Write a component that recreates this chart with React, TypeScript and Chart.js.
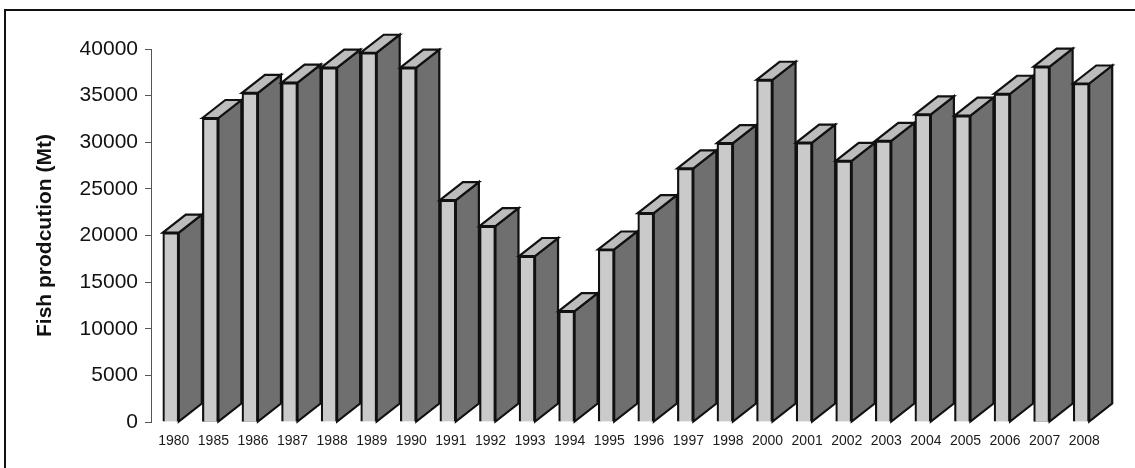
import React, { useEffect, useRef } from "react";
import { Chart, registerables } from "chart.js";

Chart.register(...registerables);

const years: string[] = [
  "1980", "1985", "1986", "1987", "1988", "1989", "1990", "1991", "1992", "1993", "1994", "1995",
  "1996", "1997", "1998", "2000", "2001", "2002", "2003", "2004", "2005", "2006", "2007", "2008",
];
const production: number[] = [
  20300, 32600, 35300, 36400, 38000, 39600, 38000, 23800, 21000, 17800, 11900, 18500,
  22400, 27200, 29900, 36700, 29950, 28000, 30150, 33000, 32850, 35200, 38100, 36300,
];
const yTitle = "Fish prodcution (Mt)";

const FONT = "'Liberation Sans', Arial, sans-serif";
const DEPTH_X = 23;
const DEPTH_Y = -18;

const depthPlugin = {
  id: "depth3d",
  beforeDatasetsDraw(chart: any) {
    const ctx = chart.ctx;
    const meta = chart.getDatasetMeta(0);
    ctx.save();
    ctx.lineJoin = "miter";
    ctx.lineWidth = 2.2;
    ctx.strokeStyle = "#111";
    meta.data.forEach((bar: any) => {
      const { x, y, base, width } = bar.getProps(["x", "y", "base", "width"], true);
      const l = x - width / 2;
      const r = x + width / 2;
      // side face
      ctx.beginPath();
      ctx.moveTo(r, y);
      ctx.lineTo(r + DEPTH_X, y + DEPTH_Y);
      ctx.lineTo(r + DEPTH_X, base + DEPTH_Y);
      ctx.lineTo(r, base);
      ctx.closePath();
      ctx.fillStyle = "#6f6f6f";
      ctx.fill();
      ctx.stroke();
      // top face
      ctx.beginPath();
      ctx.moveTo(l, y);
      ctx.lineTo(l + DEPTH_X, y + DEPTH_Y);
      ctx.lineTo(r + DEPTH_X, y + DEPTH_Y);
      ctx.lineTo(r, y);
      ctx.closePath();
      ctx.fillStyle = "#bcbcbc";
      ctx.fill();
      ctx.stroke();
    });
    ctx.restore();
  },
};

export default function App() {
  const canvasRef = useRef<HTMLCanvasElement | null>(null);

  useEffect(() => {
    if (!canvasRef.current) return;
    const chart = new Chart(canvasRef.current, {
      type: "bar",
      data: {
        labels: years,
        datasets: [
          {
            data: production,
            backgroundColor: "#cacaca",
            borderColor: "#111",
            borderWidth: 2.2,
            barThickness: 16,
            clip: false as any,
          },
        ],
      },
      options: {
        animation: false,
        responsive: true,
        maintainAspectRatio: false,
        layout: { padding: { left: 0, right: 34, top: 49, bottom: 0 } },
        plugins: { legend: { display: false }, tooltip: { enabled: false } },
        scales: {
          x: {
            grid: { display: false },
            border: { display: false },
            ticks: {
              autoSkip: false,
              maxRotation: 0,
              minRotation: 0,
              color: "#1a1a1a",
              padding: 3,
              labelOffset: 3,
              font: { family: FONT, size: 14 },
            },
            afterFit: (scale: any) => {
              scale.height = 46;
            },
          },
          y: {
            min: 0,
            max: 40000,
            ticks: {
              stepSize: 5000,
              color: "#111",
              padding: 7,
              font: { family: FONT, size: 21 },
              callback: (v: any) => String(v),
            },
            grid: { drawOnChartArea: false, drawTicks: true, tickLength: 6, color: "#555" },
            border: { display: true, color: "#555", width: 1 },
            title: {
              display: true,
              text: yTitle,
              color: "#111",
              font: { family: FONT, size: 21, weight: "bold" },
              padding: { top: 33, bottom: 0 },
            },
            afterFit: (scale: any) => {
              scale.width = 151;
            },
          },
        },
      },
      plugins: [depthPlugin],
    });
    return () => chart.destroy();
  }, []);

  return (
    <div style={{ position: "fixed", left: 0, top: 0, width: 1135, height: 468, background: "#fff", overflow: "hidden" }}>
      <div
        style={{
          position: "absolute",
          left: 4,
          top: 9,
          width: 1200,
          height: 600,
          borderLeft: "2.5px solid #111",
          borderTop: "2.5px solid #111",
        }}
      />
      <div style={{ position: "absolute", left: 0, top: 0, width: 1135, height: 468 }}>
        <canvas ref={canvasRef} />
      </div>
    </div>
  );
}
